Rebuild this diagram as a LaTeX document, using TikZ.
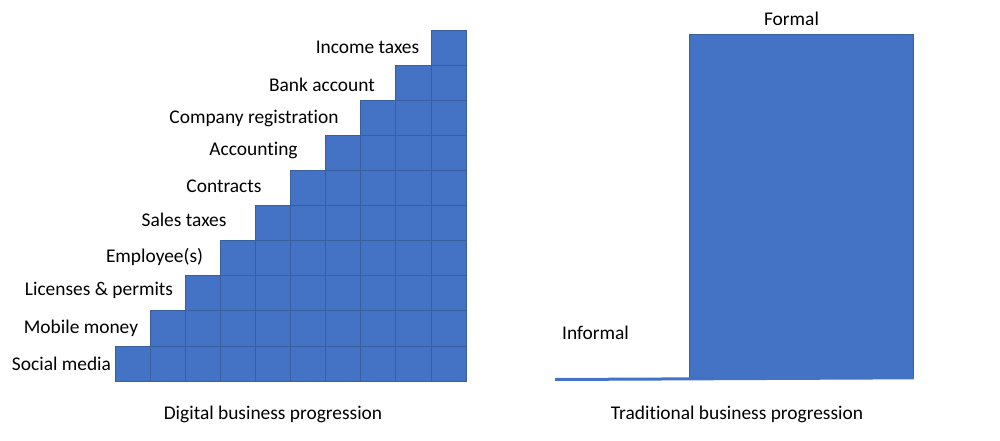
\documentclass[tikz,border=0pt]{standalone}
\usepackage{fontspec}
\setmainfont{Carlito}[RawFeature={-liga;-clig;-calt;-dlig}]
\definecolor{officeblue}{HTML}{4472C4}
\definecolor{officeedge}{HTML}{3A5F9F}
\begin{document}
\begin{tikzpicture}[x=1pt,y=-1pt,
  cell/.style={fill=officeblue,draw=officeedge,line width=0.8pt},
  txt/.style={font=\fontsize{19.4}{23}\selectfont,inner sep=0pt}]
\useasboundingbox (0,0) rectangle (1000,441);
% staircase of cells
\foreach \i in {0,...,9}
  \foreach \j in {0,...,\i}
    \draw [cell] ({115+35.1*\i},{381-35.1*\j}) rectangle +(35.1,-35.1);
% step labels
\foreach \j/\x/\y/\t in {0/61.5/363.5/Social media,1/81/328.5/Mobile money,
  2/99/290.5/Licenses \& permits,3/154.5/256.5/Employee(s),4/184/219.5/Sales taxes,
  5/224/186.5/Contracts,6/253.5/150.5/Accounting,7/254/118.5/Company registration,
  8/322/84.5/Bank account,9/367.5/47.5/Income taxes}
  \node [txt] (step\j) at (\x,\y) {\t};
% traditional progression
\node [fill=officeblue,draw=officeedge,line width=0.8pt,inner sep=0pt,
  minimum width=224,minimum height=343,anchor=north west] (formalbox) at (689,34) {};
\coordinate (informalstart) at (555,379.5);
\draw [officeblue,line width=3pt] (informalstart) -- (formalbox.south east);
\node [txt] (formal) at (791.5,18.5) {Formal};
\node [txt] (informal) at (595.5,332.5) {Informal};
% captions
\node [txt] (digitalcap) at (273,414.5) {Digital business progression};
\node [txt] (traditionalcap) at (737,414.5) {Traditional business progression};
\end{tikzpicture}
\end{document}
